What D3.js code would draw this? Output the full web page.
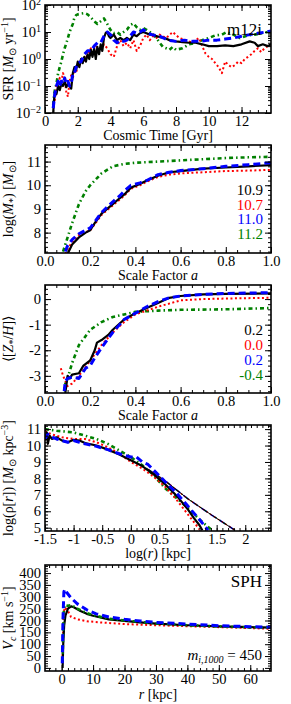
<!DOCTYPE html>
<html>
<head>
<meta charset="utf-8">
<script src="https://cdn.jsdelivr.net/npm/d3@7"></script>
<style>
  body { margin: 0; background: #fff; }
  text { font-family: "Liberation Serif", "Times New Roman", Times, serif; fill: #000; }
</style>
</head>
<body>
<svg id="chart" width="291" height="704"></svg>
<script>
// ---- data ----
// panel 1 : SFR vs cosmic time [Gyr, Msun/yr]
var sfrBlack = [[0.5,0.01],[0.55,0.03],[0.6,0.06],[0.7,0.05],[0.8,0.1],[0.9,0.07],[1.0,0.12],[1.1,0.1],[1.2,0.15],[1.3,0.09],[1.4,0.12],[1.5,0.1],[1.6,0.08],[1.7,0.3],[1.8,0.5],[1.9,0.4],[2.0,0.8],[2.1,0.5],[2.2,1.0],[2.3,0.7],[2.4,1.2],[2.5,0.8],[2.6,1.5],[2.7,1.0],[2.8,2.2],[2.9,1.2],[3.0,2.5],[3.1,1.0],[3.2,2.8],[3.3,1.5],[3.4,3.5],[3.5,2.0],[3.6,6],[3.7,9],[3.8,10],[3.9,7],[4.0,6],[4.2,8],[4.4,5],[4.6,6],[4.8,5],[5.0,6],[5.2,5],[5.4,8],[5.6,7],[5.8,9],[6.0,10],[6.2,9],[6.4,8],[6.6,8],[6.8,7],[7.0,6.5],[7.3,6],[7.6,5],[8.0,4.5],[8.4,4.2],[8.8,4],[9.2,4],[9.6,3.5],[10.0,3.0],[10.5,3.0],[11.0,3.2],[11.5,3.0],[12.0,3.5],[12.5,4.5],[12.8,4],[13.0,3],[13.3,3.5],[13.6,3],[13.8,3.5]];
var sfrRed = [[0.5,0.02],[0.6,0.03],[0.7,0.1],[0.8,0.08],[0.9,0.2],[1.0,0.15],[1.1,0.3],[1.2,0.2],[1.3,0.06],[1.4,0.04],[1.5,0.15],[1.6,0.25],[1.7,0.2],[1.8,0.4],[1.9,0.3],[2.0,0.6],[2.2,1.0],[2.4,0.8],[2.6,1.5],[2.8,2.5],[3.0,2],[3.2,3],[3.4,2],[3.6,3.5],[3.8,2.5],[4.0,1.5],[4.2,1.2],[4.4,3],[4.6,5],[4.8,3],[5.0,4],[5.2,2.5],[5.4,5],[5.6,2],[5.8,3],[6.0,6],[6.2,8],[6.4,5],[6.6,7],[6.8,6],[7.0,8],[7.4,6],[7.8,10],[8.2,6],[8.6,5],[9.0,4],[9.4,6],[9.6,3],[9.8,1.6],[10.0,1.2],[10.2,1.0],[10.4,0.7],[10.6,0.5],[10.8,0.3],[11.0,0.8],[11.2,0.6],[11.4,0.5],[11.6,0.6],[11.8,0.8],[12.0,0.7],[12.2,1.0],[12.4,1.2],[12.6,1.5],[12.8,2],[13.0,2.5],[13.2,1.8],[13.4,2.5],[13.6,3],[13.8,3]];
var sfrBlue = [[0.5,0.015],[0.6,0.05],[0.7,0.1],[0.8,0.15],[0.9,0.1],[1.0,0.15],[1.1,0.12],[1.2,0.2],[1.3,0.12],[1.4,0.15],[1.5,0.1],[1.6,0.12],[1.7,0.3],[1.8,0.3],[1.9,0.5],[2.0,0.7],[2.2,0.8],[2.4,1.5],[2.6,2],[2.8,2],[3.0,3],[3.2,4],[3.4,4],[3.6,7],[3.8,10],[4.0,8],[4.2,5],[4.4,4],[4.6,5],[4.8,4.5],[5.0,5],[5.2,7],[5.4,10],[5.6,9],[5.8,10],[6.0,12],[6.2,10],[6.5,8],[7.0,7],[7.5,5],[8.0,4.5],[8.5,5],[9.0,4.5],[9.5,4.5],[10.0,5],[10.5,5],[11.0,5.5],[11.5,6],[12.0,7],[12.5,8],[13.0,9],[13.5,10],[13.8,11]];
var sfrGreen = [[0.5,0.02],[0.55,0.04],[0.6,0.07],[0.7,0.12],[0.8,0.3],[0.9,0.5],[1.0,0.8],[1.1,1.5],[1.2,2.5],[1.3,3.8],[1.4,6],[1.5,10],[1.6,14],[1.7,20],[1.8,35],[1.9,42],[2.0,45],[2.2,48],[2.4,50],[2.6,45],[2.8,35],[3.0,25],[3.2,20],[3.4,25],[3.6,32],[3.8,20],[4.0,12],[4.2,9],[4.4,10],[4.6,8],[4.8,10],[5.0,12],[5.2,18],[5.4,21],[5.6,15],[5.8,12],[6.0,14],[6.2,12],[6.4,10],[6.6,8],[6.8,6],[7.0,4],[7.2,2.8],[7.4,2.5],[7.6,2.2],[7.8,2.8],[8.0,2.2],[8.4,2.5],[8.8,3.5],[9.2,4],[9.6,5],[10.0,6],[10.4,7.5],[10.8,8],[11.1,10],[11.5,8],[11.9,6],[12.4,7.5],[12.8,8],[13.2,9],[13.6,10]];

// panel 2 : log stellar mass vs scale factor
var mstarBlack = [[0.1,7.1],[0.12,7.5],[0.15,7.8],[0.18,8.0],[0.2,8.1],[0.22,8.4],[0.25,8.8],[0.3,9.2],[0.33,9.45],[0.35,9.6],[0.38,9.9],[0.42,10.05],[0.45,10.2],[0.5,10.4],[0.55,10.55],[0.6,10.6],[0.7,10.7],[0.8,10.75],[0.9,10.8],[1.0,10.85]];
var mstarRed = [[0.09,7.1],[0.1,7.3],[0.12,7.6],[0.15,7.9],[0.2,8.1],[0.22,8.35],[0.25,8.75],[0.3,9.15],[0.35,9.55],[0.38,9.85],[0.42,10.0],[0.45,10.15],[0.5,10.35],[0.55,10.45],[0.6,10.5],[0.7,10.55],[0.8,10.6],[0.9,10.62],[1.0,10.65]];
var mstarBlue = [[0.09,7.2],[0.1,7.45],[0.12,7.7],[0.15,7.95],[0.2,8.2],[0.22,8.45],[0.25,8.85],[0.3,9.3],[0.33,9.55],[0.35,9.75],[0.38,10.0],[0.42,10.1],[0.45,10.2],[0.5,10.45],[0.55,10.55],[0.6,10.62],[0.7,10.7],[0.8,10.8],[0.9,10.87],[1.0,10.95]];
var mstarGreen = [[0.08,7.2],[0.09,7.5],[0.1,7.8],[0.12,8.4],[0.15,9.2],[0.18,9.75],[0.2,10.0],[0.25,10.5],[0.3,10.8],[0.35,10.9],[0.4,10.95],[0.5,11.0],[0.6,11.05],[0.7,11.1],[0.8,11.15],[0.9,11.18],[1.0,11.2]];
var mstarFinal = ["10.9", "10.7", "11.0", "11.2"];

// panel 3 : mean stellar metallicity vs scale factor
var zBlack = [[0.09,-3.67],[0.1,-3.0],[0.11,-3.1],[0.12,-2.95],[0.15,-2.9],[0.17,-2.6],[0.2,-2.4],[0.22,-2.0],[0.23,-1.7],[0.25,-1.6],[0.28,-1.4],[0.3,-1.2],[0.35,-0.8],[0.4,-0.55],[0.45,-0.35],[0.5,-0.15],[0.55,0.05],[0.6,0.12],[0.7,0.18],[0.8,0.2],[1.0,0.22]];
var zRed = [[0.07,-2.7],[0.08,-3.0],[0.1,-3.4],[0.12,-3.3],[0.15,-3.0],[0.2,-2.4],[0.25,-1.8],[0.3,-1.3],[0.35,-0.9],[0.4,-0.6],[0.45,-0.45],[0.5,-0.3],[0.6,-0.05],[0.7,0.0],[0.85,0.03],[1.0,0.05]];
var zBlue = [[0.085,-3.6],[0.09,-3.2],[0.1,-3.1],[0.12,-3.05],[0.15,-3.1],[0.18,-2.7],[0.2,-2.6],[0.22,-2.3],[0.25,-1.9],[0.3,-1.3],[0.35,-0.8],[0.4,-0.55],[0.45,-0.3],[0.5,-0.1],[0.55,0.05],[0.6,0.12],[0.7,0.18],[0.8,0.22],[1.0,0.25]];
var zGreen = [[0.085,-3.6],[0.09,-3.3],[0.1,-3.1],[0.12,-2.5],[0.15,-1.8],[0.2,-1.2],[0.25,-0.9],[0.3,-0.7],[0.35,-0.6],[0.4,-0.5],[0.5,-0.45],[0.6,-0.42],[0.8,-0.4],[1.0,-0.35]];
var zFinal = ["0.2", "0.0", "0.2", "-0.4"];

// panel 4 : density profiles, log r [kpc] vs log rho
var rhoBlack = [[-1.5,10.3],[-1.47,10.8],[-1.45,10.1],[-1.42,10.6],[-1.38,10.4],[-1.3,10.5],[-1.2,10.3],[-1.1,10.2],[-1.0,10.35],[-0.9,10.3],[-0.8,10.15],[-0.6,10.0],[-0.4,9.75],[-0.2,9.45],[0.0,9.1],[0.2,8.75],[0.4,8.25],[0.6,7.65],[0.8,6.95],[1.0,6.1],[1.1,5.6],[1.2,5.15],[1.25,4.85]];
var rhoRed = [[-1.5,10.9],[-1.4,10.7],[-1.2,10.5],[-1.0,10.4],[-0.8,10.4],[-0.6,10.2],[-0.4,9.9],[-0.2,9.5],[0.0,9.0],[0.2,8.6],[0.4,8.1],[0.6,7.5],[0.8,6.7],[1.0,5.8],[1.2,4.9]];
var rhoBlue = [[-1.5,10.4],[-1.45,10.7],[-1.4,10.55],[-1.3,10.4],[-1.2,10.3],[-1.1,10.2],[-1.0,10.3],[-0.9,10.2],[-0.8,10.1],[-0.6,9.95],[-0.4,9.75],[-0.2,9.5],[0.0,9.3],[0.1,9.3],[0.2,9.0],[0.3,8.85],[0.4,8.5],[0.6,7.8],[0.8,7.1],[1.0,6.3],[1.2,5.5],[1.35,4.85]];
var rhoGreen = [[-1.5,11.0],[-1.3,10.9],[-1.0,10.8],[-0.8,10.6],[-0.6,10.4],[-0.4,10.1],[-0.2,9.7],[0.0,9.3],[0.2,8.8],[0.4,8.2],[0.6,7.4],[0.8,6.8],[1.0,6.2],[1.2,5.5],[1.4,4.9]];
var rhoOuter = [[0.3,8.55],[0.6,7.85],[1.0,6.75],[1.4,5.8],[1.82,4.85]];

// panel 5 : rotation curves, r [kpc] vs Vc [km/s]
var vcBlack = [[0.3,0],[0.5,100],[0.8,180],[1.2,220],[2,250],[3,260],[4,255],[6,240],[8,228],[10,220],[15,205],[20,198],[25,192],[30,187],[40,180],[50,175],[60,172],[66.6,170]];
var vcRed = [[0.3,50],[0.6,230],[1.0,255],[2,240],[3,215],[5,205],[8,197],[12,192],[20,185],[30,180],[40,176],[50,172],[60,168],[66.6,165]];
var vcBlue = [[0.2,20],[0.4,200],[0.7,320],[1.0,332],[1.5,320],[3,295],[5,270],[8,245],[11,228],[15,215],[20,205],[25,198],[30,192],[40,185],[50,178],[60,174],[66.6,172]];
var vcGreen = [[0.3,30],[0.6,230],[1.0,265],[2,262],[3,265],[5,250],[8,232],[10,222],[15,208],[20,200],[30,188],[40,180],[50,175],[60,171],[66.6,170]];

// ---- styles ----
var styles = {
  black: {color: "#000000", width: 2.2, dash: null},
  red:   {color: "#ff0000", width: 2, dash: "2,2.5"},
  blue:  {color: "#0000ff", width: 3, dash: "7,4"},
  green: {color: "#008000", width: 2.6, dash: "4,3,1.5,3"}
};
var SERIF = "'Liberation Serif', 'Times New Roman', Times, serif";

var svg = d3.select("#chart");
var L = 45, R = 271;
var clipN = 0;

function range(a, b, s) { var out = []; for (var v = a; v <= b + 1e-9; v += s) out.push(+v.toFixed(6)); return out; }

function panel(cfg) {
  var g = svg.append("g").attr("transform", "translate(" + L + "," + cfg.top + ")");
  var w = R - L, h = cfg.bottom - cfg.top;
  var x = cfg.x.range([0, w]);
  var y = cfg.y.range([h, 0]);

  var id = "clip" + (clipN++);
  g.append("clipPath").attr("id", id).append("rect").attr("width", w).attr("height", h);
  var plot = g.append("g").attr("clip-path", "url(#" + id + ")");

  var xm = cfg.xMajor, xn = cfg.xMinor;
  var ym = cfg.yMajor, yn = cfg.yMinor;

  // bottom
  g.append("g").attr("transform", "translate(0," + h + ")")
    .call(d3.axisBottom(x).tickValues(xm).tickSize(-6).tickPadding(3).tickFormat(cfg.xFmt))
    .call(style);
  g.append("g").attr("transform", "translate(0," + h + ")")
    .call(d3.axisBottom(x).tickValues(xn).tickSize(-3).tickFormat("")).call(style);
  // top
  g.append("g").call(d3.axisTop(x).tickValues(xm).tickSize(-6).tickFormat("")).call(style);
  g.append("g").call(d3.axisTop(x).tickValues(xn).tickSize(-3).tickFormat("")).call(style);
  // left
  var la = g.append("g")
    .call(d3.axisLeft(y).tickValues(ym).tickSize(-6).tickPadding(4).tickFormat(cfg.yLog ? "" : cfg.yFmt))
    .call(style);
  g.append("g").call(d3.axisLeft(y).tickValues(yn).tickSize(-3).tickFormat("")).call(style);
  // right
  g.append("g").attr("transform", "translate(" + w + ",0)")
    .call(d3.axisRight(y).tickValues(ym).tickSize(-6).tickFormat("")).call(style);
  g.append("g").attr("transform", "translate(" + w + ",0)")
    .call(d3.axisRight(y).tickValues(yn).tickSize(-3).tickFormat("")).call(style);

  if (cfg.yLog) {
    la.selectAll(".tick text").each(function(d) {
      var t = d3.select(this).text(null);
      var e = Math.round(Math.log10(d));
      t.append("tspan").text("10");
      t.append("tspan").attr("dy", -5).attr("font-size", 10).text(e < 0 ? "\u2212" + (-e) : e);
    });
  }

  g.append("rect").attr("width", w).attr("height", h)
    .attr("fill", "none").attr("stroke", "#000").attr("stroke-width", 1.6);

  return {g: g, plot: plot, x: x, y: y, w: w, h: h};
}

function style(sel) {
  sel.attr("font-family", SERIF);
  sel.select(".domain").remove();
  sel.selectAll(".tick line").attr("stroke", "#000").attr("stroke-width", 1);
  sel.selectAll(".tick text").attr("font-size", 14.5);
}

function drawLine(p, data, st, widthOverride) {
  var line = d3.line().x(function(d){ return p.x(d[0]); }).y(function(d){ return p.y(d[1]); });
  p.plot.append("path").datum(data)
    .attr("d", line)
    .attr("fill", "none")
    .attr("stroke", st.color)
    .attr("stroke-width", widthOverride || st.width)
    .attr("stroke-dasharray", st.dash)
    .attr("stroke-linejoin", "round");
}

function rich(sel, parts) {
  parts.forEach(function(p) {
    var ts = sel.append("tspan").text(p.t);
    if (p.i) ts.attr("font-style", "italic");
    if (p.dy) ts.attr("dy", p.dy);
    if (p.fs) ts.attr("font-size", p.fs);
  });
}

function yTitle(cy, parts, fs) {
  var t = svg.append("text").attr("text-anchor", "middle")
    .attr("transform", "translate(13," + cy + ") rotate(-90)")
    .attr("font-size", fs || 14);
  rich(t, parts);
  return t;
}
function xTitle(cy, parts) {
  var t = svg.append("text").attr("text-anchor", "middle")
    .attr("x", (L + R) / 2).attr("y", cy).attr("font-size", 14);
  rich(t, parts);
}

var fmt1 = function(v){ return v.toFixed(1); };
var fmtPlain = function(v){ return String(v); };

// ---- panel 1 ----
var p1 = panel({
  top: 5, bottom: 113,
  x: d3.scaleLinear().domain([0, 13.8]), y: d3.scaleLog().domain([0.01, 100]),
  xMajor: range(0, 12, 2), xMinor: range(0, 13.5, 0.5), xFmt: fmtPlain,
  yMajor: [0.01, 0.1, 1, 10, 100], yMinor: [2,3,4,5,6,7,8,9].flatMap(function(k){ return [k*0.01, k*0.1, k, k*10]; }),
  yLog: true
});
drawLine(p1, sfrGreen, styles.green);
drawLine(p1, sfrRed, styles.red);
drawLine(p1, sfrBlack, styles.black);
drawLine(p1, sfrBlue, styles.blue);
p1.g.append("text").attr("x", p1.w - 9).attr("y", 30).attr("text-anchor", "end").attr("font-size", 17).text("m12i");
yTitle(59, [{t: "SFR ["}, {t: "M", i: 1}, {t: "\u2299", dy: 3, fs: 10}, {t: " yr", dy: -3}, {t: "\u22121", dy: -5, fs: 10}, {t: "]", dy: 5}]);
xTitle(140, [{t: "Cosmic Time [Gyr]"}]);

// ---- panel 2 ----
var p2 = panel({
  top: 145, bottom: 253,
  x: d3.scaleLinear().domain([0, 1]), y: d3.scaleLinear().domain([7.14, 11.7]),
  xMajor: range(0, 1, 0.2), xMinor: range(0, 1, 0.05), xFmt: fmt1,
  yMajor: [8, 9, 10, 11], yMinor: range(7.2, 11.6, 0.2), yFmt: fmtPlain
});
drawLine(p2, mstarGreen, styles.green);
drawLine(p2, mstarRed, styles.red);
drawLine(p2, mstarBlack, styles.black);
drawLine(p2, mstarBlue, styles.blue);
["black", "red", "blue", "green"].forEach(function(k, i) {
  p2.g.append("text").attr("x", p2.w - 8).attr("y", 50 + i * 14.5).attr("text-anchor", "end")
    .attr("font-size", 15).style("fill", styles[k].color).text(mstarFinal[i]);
});
yTitle(199, [{t: "log("}, {t: "M", i: 1}, {t: "*", dy: 3, fs: 10}, {t: ") [", dy: -3}, {t: "M", i: 1}, {t: "\u2299", dy: 3, fs: 10}, {t: "]", dy: -3}]);
xTitle(280, [{t: "Scale Factor "}, {t: "a", i: 1}]);

// ---- panel 3 ----
var p3 = panel({
  top: 285, bottom: 393,
  x: d3.scaleLinear().domain([0, 1]), y: d3.scaleLinear().domain([-3.67, 0.55]),
  xMajor: range(0, 1, 0.2), xMinor: range(0, 1, 0.05), xFmt: fmt1,
  yMajor: [-3, -2, -1, 0], yMinor: range(-3.6, 0.4, 0.2), yFmt: fmtPlain
});
drawLine(p3, zGreen, styles.green);
drawLine(p3, zRed, styles.red);
drawLine(p3, zBlack, styles.black);
drawLine(p3, zBlue, styles.blue);
["black", "red", "blue", "green"].forEach(function(k, i) {
  p3.g.append("text").attr("x", p3.w - 8).attr("y", 50 + i * 15).attr("text-anchor", "end")
    .attr("font-size", 15).style("fill", styles[k].color).text(zFinal[i]);
});
yTitle(339, [{t: "\u27E8["}, {t: "Z", i: 1}, {t: "*", dy: 3, fs: 10}, {t: "/", dy: -3}, {t: "H", i: 1}, {t: "]\u27E9"}]);
xTitle(420, [{t: "Scale Factor "}, {t: "a", i: 1}]);

// ---- panel 4 ----
var p4 = panel({
  top: 425, bottom: 531,
  x: d3.scaleLinear().domain([-1.5, 2.45]), y: d3.scaleLinear().domain([4.8, 11.25]),
  xMajor: range(-1.5, 2, 0.5), xMinor: range(-1.5, 2.4, 0.1), xFmt: fmtPlain,
  yMajor: [5, 6, 7, 8, 9, 10, 11], yMinor: range(5, 11.2, 0.2), yFmt: fmtPlain
});
drawLine(p4, rhoOuter, styles.blue, 1.6);
drawLine(p4, rhoOuter, styles.green, 1.2);
drawLine(p4, rhoOuter, styles.red, 1.2);
drawLine(p4, rhoOuter, styles.black, 1);
drawLine(p4, rhoGreen, styles.green);
drawLine(p4, rhoRed, styles.red);
drawLine(p4, rhoBlack, styles.black);
drawLine(p4, rhoBlue, styles.blue);
yTitle(478, [{t: "log(\u03C1["}, {t: "r", i: 1}, {t: "])  ["}, {t: "M", i: 1}, {t: "\u2299", dy: 3, fs: 10}, {t: " kpc", dy: -3}, {t: "\u22123", dy: -5, fs: 10}, {t: "]", dy: 5}]);
xTitle(558, [{t: "log("}, {t: "r", i: 1}, {t: ") [kpc]"}]);

// ---- panel 5 ----
var p5 = panel({
  top: 565, bottom: 671,
  x: d3.scaleLinear().domain([-5.3, 66.6]), y: d3.scaleLinear().domain([-13, 434]),
  xMajor: range(0, 60, 10), xMinor: range(-4, 66, 2), xFmt: fmtPlain,
  yMajor: range(0, 400, 50), yMinor: range(0, 430, 10), yFmt: fmtPlain
});
drawLine(p5, vcRed, styles.red);
drawLine(p5, vcBlack, styles.black);
drawLine(p5, vcGreen, styles.green);
drawLine(p5, vcBlue, styles.blue);
p5.g.append("text").attr("x", p5.w - 9).attr("y", 22).attr("text-anchor", "end").attr("font-size", 17).text("SPH");
var mt = p5.g.append("text").attr("x", p5.w - 9).attr("y", 95).attr("text-anchor", "end").attr("font-size", 15);
rich(mt, [{t: "m", i: 1}, {t: "i,1000", i: 1, dy: 3, fs: 10}, {t: " = 450", dy: -3}]);
yTitle(618, [{t: "V", i: 1}, {t: "c", i: 1, dy: 3, fs: 10}, {t: " [km s", dy: -3}, {t: "\u22121", dy: -5, fs: 10}, {t: "]", dy: 5}]);
xTitle(699, [{t: "r", i: 1}, {t: " [kpc]"}]);
</script>
</body>
</html>
